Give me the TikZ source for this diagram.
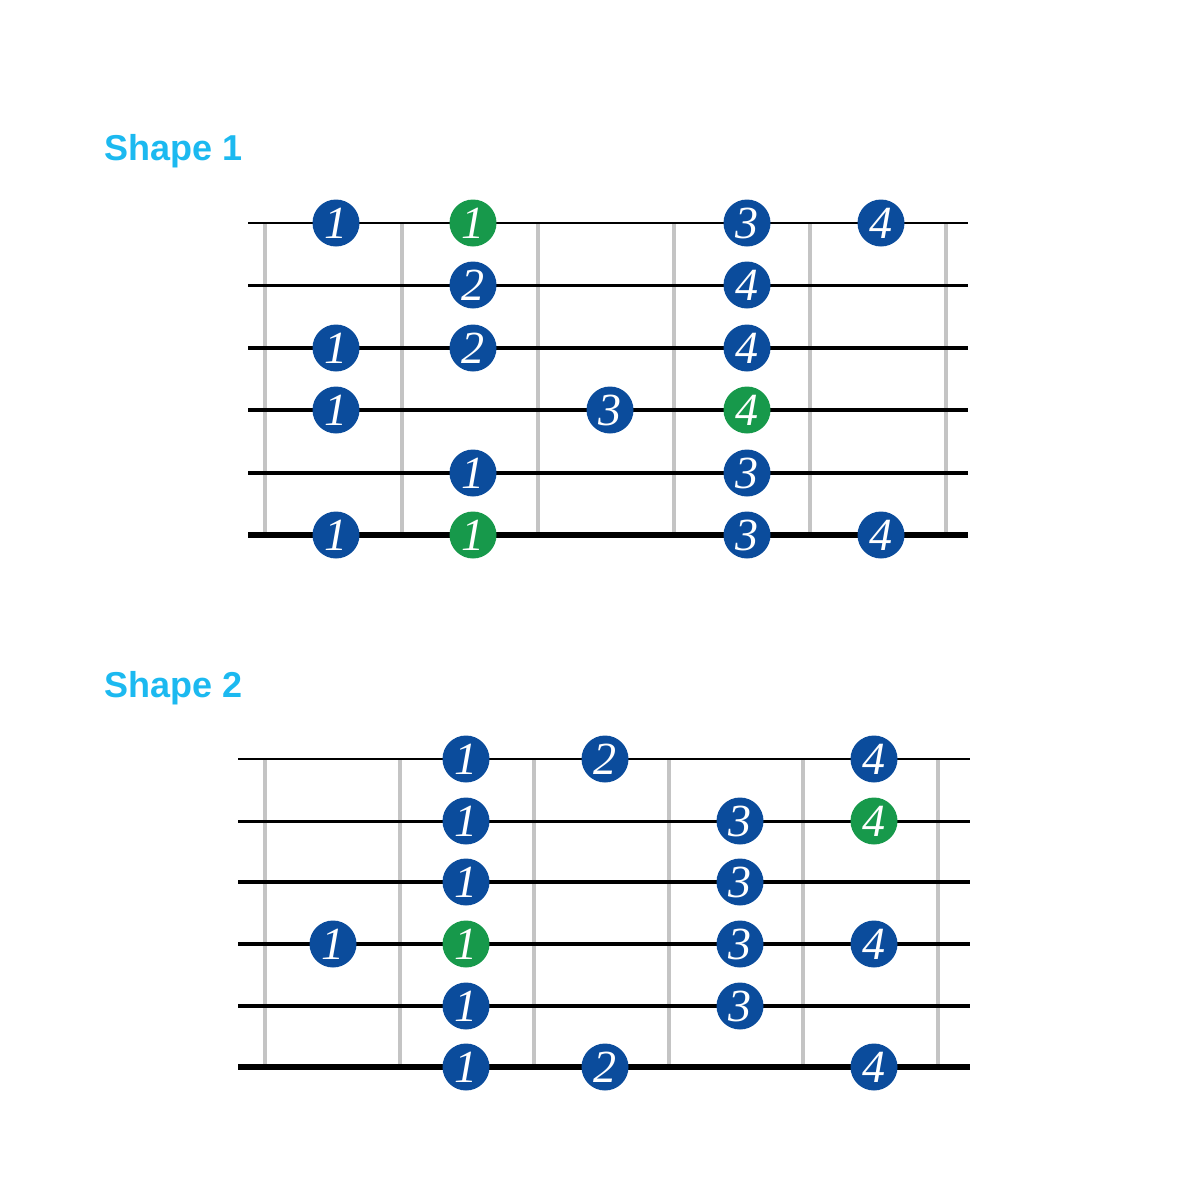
\documentclass[tikz,border=0pt]{standalone}
\usepackage{fontspec}
\newfontfamily\titlefont{Liberation Sans}
\newfontfamily\notefont{Liberation Serif}
\usetikzlibrary{positioning}
\definecolor{titleblue}{HTML}{1CB9F0}
\definecolor{noteblue}{HTML}{0B4C9C}
\definecolor{rootgreen}{HTML}{17994B}
\definecolor{fretgray}{HTML}{C4C4C4}

\begin{document}
\begin{tikzpicture}[x=0.5pt,y=-0.5pt,
    fret/.style={fretgray,line width=1.6pt},
    note/.style={circle,fill=noteblue,text=white,minimum size=23.5pt,inner sep=0pt,
      font=\notefont\itshape\fontsize{23}{23}\selectfont},
    root/.style={note,fill=rootgreen},
    shapetitle/.style={anchor=base west,text=titleblue,inner sep=0pt,
      font=\titlefont\bfseries\fontsize{18}{18}\selectfont}]
  \useasboundingbox (0,0) rectangle (1200,1200);

  % Shape 1
  \node[shapetitle] (titleone) at (104,160) {Shape 1};
  \foreach \x in {265,402,538,674,810,946}
    \draw[fret] (\x,223) -- (\x,535);
  \foreach \y/\w in {223/1.3pt,285/1.5pt,348/1.7pt,410/2pt,473/2.3pt,535/2.7pt}
    \draw[line width=\w] (248,\y) -- (968,\y);
  \foreach \x/\y/\f/\kind [count=\i] in {
      336/223/1/note, 473/223/1/root, 747/223/3/note, 881/223/4/note,
      473/285/2/note, 747/285/4/note,
      336/348/1/note, 473/348/2/note, 747/348/4/note,
      336/410/1/note, 610/410/3/note, 747/410/4/root,
      473/473/1/note, 747/473/3/note,
      336/535/1/note, 473/535/1/root, 747/535/3/note, 881/535/4/note}
    \node[\kind] (one\i) at (\x,\y) {\f};

  % Shape 2
  \node[shapetitle] (titletwo) at (104,697) {Shape 2};
  \foreach \x in {265,400,534,669,803,938}
    \draw[fret] (\x,759) -- (\x,1067);
  \foreach \y/\w in {759/1.3pt,821/1.5pt,882/1.7pt,944/2pt,1006/2.3pt,1067/2.7pt}
    \draw[line width=\w] (238,\y) -- (970,\y);
  \foreach \x/\y/\f/\kind [count=\i] in {
      466/759/1/note, 605/759/2/note, 874/759/4/note,
      466/821/1/note, 740/821/3/note, 874/821/4/root,
      466/882/1/note, 740/882/3/note,
      333/944/1/note, 466/944/1/root, 740/944/3/note, 874/944/4/note,
      466/1006/1/note, 740/1006/3/note,
      466/1067/1/note, 605/1067/2/note, 874/1067/4/note}
    \node[\kind] (two\i) at (\x,\y) {\f};
\end{tikzpicture}
\end{document}
